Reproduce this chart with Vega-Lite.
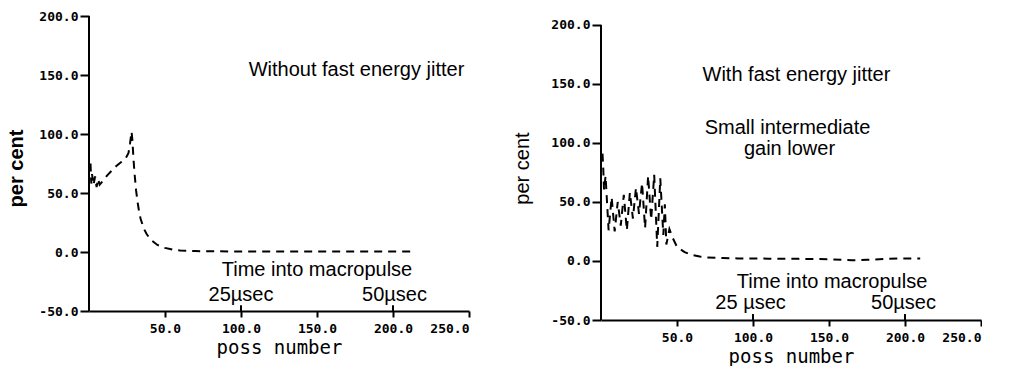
{
  "$schema": "https://vega.github.io/schema/vega-lite/v6.json",
  "background": "white",
  "padding": {"left": 6, "top": 10, "right": 0, "bottom": 0},
  "spacing": 42,
  "config": {
    "view": {"stroke": null},
    "axis": {
      "grid": false,
      "domainColor": "black",
      "domainWidth": 2,
      "tickColor": "black",
      "tickWidth": 2,
      "labelColor": "black",
      "labelFont": "DejaVu Sans Mono",
      "labelFontWeight": "bold",
      "labelFontSize": 13,
      "titleColor": "black"
    },
    "text": {"font": "Liberation Sans", "fontSize": 20, "color": "black", "align": "center", "baseline": "middle"}
  },
  "hconcat": [
    {
      "width": 380,
      "height": 304,
      "layer": [
        {
          "data": {"values": [
            {"pass": 1, "pct": 75}, {"pass": 1.5, "pct": 58}, {"pass": 2, "pct": 66}, {"pass": 3, "pct": 57},
            {"pass": 4, "pct": 64}, {"pass": 5, "pct": 55}, {"pass": 6, "pct": 62}, {"pass": 7, "pct": 57},
            {"pass": 9, "pct": 60}, {"pass": 12, "pct": 65}, {"pass": 15, "pct": 69}, {"pass": 18, "pct": 73},
            {"pass": 21, "pct": 76}, {"pass": 24, "pct": 79}, {"pass": 26, "pct": 84}, {"pass": 27, "pct": 92},
            {"pass": 28, "pct": 102}, {"pass": 28.6, "pct": 94}, {"pass": 29.2, "pct": 80}, {"pass": 30, "pct": 66},
            {"pass": 31, "pct": 52}, {"pass": 32, "pct": 42}, {"pass": 33, "pct": 34}, {"pass": 34, "pct": 28},
            {"pass": 36, "pct": 20}, {"pass": 38, "pct": 15}, {"pass": 41, "pct": 10}, {"pass": 45, "pct": 6},
            {"pass": 50, "pct": 3.5}, {"pass": 55, "pct": 2}, {"pass": 60, "pct": 1.2}, {"pass": 70, "pct": 0.8},
            {"pass": 80, "pct": 0.6}, {"pass": 100, "pct": 0.5}, {"pass": 150, "pct": 0.5}, {"pass": 212, "pct": 0.5}
          ]},
          "mark": {"type": "line", "color": "black", "strokeWidth": 2, "strokeDash": [8, 6]},
          "encoding": {
            "x": {"field": "pass", "type": "quantitative",
              "scale": {"domain": [0, 250], "nice": false, "zero": false},
              "axis": {"title": "poss number", "values": [50, 100, 150, 200, 250], "format": ".1f",
                "offset": -9, "tickSize": 6, "labelPadding": 5,
                "titleFont": "DejaVu Sans Mono", "titleFontSize": 19, "titleFontWeight": "normal", "titlePadding": 3}},
            "y": {"field": "pct", "type": "quantitative",
              "scale": {"domain": [-57.6, 200], "nice": false, "zero": false},
              "axis": {"title": "per cent", "values": [-50, 0, 50, 100, 150, 200],
                "labelExpr": "datum.value < 0 ? '-' + format(-datum.value, '.1f') : format(datum.value, '.1f')",
                "domain": false, "tickSize": 9, "labelPadding": 2,
                "titleFont": "Liberation Sans", "titleFontSize": 20, "titleFontWeight": "bold", "titlePadding": 12}}
          }
        },
        {
          "data": {"values": [{"pass": 0, "pct": -50, "pct2": 200}]},
          "mark": {"type": "rule", "color": "black", "strokeWidth": 2},
          "encoding": {
            "x": {"field": "pass", "type": "quantitative"},
            "y": {"field": "pct", "type": "quantitative"},
            "y2": {"field": "pct2"}
          }
        },
        {
          "data": {"values": [{"pass": 100, "pct": -50, "pct2": -45}, {"pass": 200, "pct": -50, "pct2": -45}]},
          "mark": {"type": "rule", "color": "black", "strokeWidth": 2},
          "encoding": {
            "x": {"field": "pass", "type": "quantitative"},
            "y": {"field": "pct", "type": "quantitative"},
            "y2": {"field": "pct2"}
          }
        },
        {
          "data": {"values": [
            {"pass": 176, "pct": 154, "label": "Without fast energy jitter"},
            {"pass": 150, "pct": -15, "label": "Time into macropulse"},
            {"pass": 100, "pct": -36.5, "label": "25µsec"},
            {"pass": 201, "pct": -36.5, "label": "50µsec"}
          ]},
          "mark": {"type": "text"},
          "encoding": {
            "x": {"field": "pass", "type": "quantitative"},
            "y": {"field": "pct", "type": "quantitative"},
            "text": {"field": "label"}
          }
        }
      ]
    },
    {
      "width": 380,
      "height": 304,
      "layer": [
        {
          "data": {"values": [
            {"pass": 1, "pct": 91}, {"pass": 1.5, "pct": 78}, {"pass": 2, "pct": 60}, {"pass": 3, "pct": 72},
            {"pass": 5, "pct": 26}, {"pass": 7, "pct": 54}, {"pass": 9, "pct": 25}, {"pass": 11, "pct": 50},
            {"pass": 13, "pct": 30}, {"pass": 15, "pct": 56}, {"pass": 17, "pct": 26}, {"pass": 19, "pct": 58},
            {"pass": 21, "pct": 36}, {"pass": 23, "pct": 62}, {"pass": 25, "pct": 40}, {"pass": 27, "pct": 66},
            {"pass": 29, "pct": 28}, {"pass": 31, "pct": 72}, {"pass": 33, "pct": 35}, {"pass": 35, "pct": 73},
            {"pass": 37, "pct": 12}, {"pass": 39, "pct": 70}, {"pass": 41, "pct": 22}, {"pass": 42, "pct": 48},
            {"pass": 43, "pct": 14}, {"pass": 45, "pct": 27}, {"pass": 47, "pct": 20}, {"pass": 50, "pct": 12},
            {"pass": 55, "pct": 7.5}, {"pass": 60, "pct": 5}, {"pass": 65, "pct": 3.8}, {"pass": 70, "pct": 3},
            {"pass": 80, "pct": 2.5}, {"pass": 90, "pct": 2.2}, {"pass": 110, "pct": 2}, {"pass": 130, "pct": 1.8},
            {"pass": 150, "pct": 1.5}, {"pass": 165, "pct": 0.6}, {"pass": 175, "pct": 1}, {"pass": 190, "pct": 2},
            {"pass": 210, "pct": 2.2}
          ]},
          "mark": {"type": "line", "color": "black", "strokeWidth": 2, "strokeDash": [8, 6]},
          "encoding": {
            "x": {"field": "pass", "type": "quantitative",
              "scale": {"domain": [0, 250], "nice": false, "zero": false},
              "axis": {"title": "poss number", "values": [50, 100, 150, 200, 250], "format": ".1f",
                "tickSize": 6, "labelPadding": 5,
                "titleFont": "DejaVu Sans Mono", "titleFontSize": 19, "titleFontWeight": "normal", "titlePadding": 3}},
            "y": {"field": "pct", "type": "quantitative",
              "scale": {"domain": [-50, 207.6], "nice": false, "zero": false},
              "axis": {"title": "per cent", "values": [-50, 0, 50, 100, 150, 200],
                "labelExpr": "datum.value < 0 ? '-' + format(-datum.value, '.1f') : format(datum.value, '.1f')",
                "domain": false, "tickSize": 9, "labelPadding": 2,
                "titleFont": "Liberation Sans", "titleFontSize": 20, "titleFontWeight": "normal", "titlePadding": 18}}
          }
        },
        {
          "data": {"values": [{"pass": 0, "pct": -50, "pct2": 200}]},
          "mark": {"type": "rule", "color": "black", "strokeWidth": 2},
          "encoding": {
            "x": {"field": "pass", "type": "quantitative"},
            "y": {"field": "pct", "type": "quantitative"},
            "y2": {"field": "pct2"}
          }
        },
        {
          "data": {"values": [{"pass": 100, "pct": -50, "pct2": -45}, {"pass": 200, "pct": -50, "pct2": -45}]},
          "mark": {"type": "rule", "color": "black", "strokeWidth": 2},
          "encoding": {
            "x": {"field": "pass", "type": "quantitative"},
            "y": {"field": "pct", "type": "quantitative"},
            "y2": {"field": "pct2"}
          }
        },
        {
          "data": {"values": [
            {"pass": 128.6, "pct": 157.6, "label": "With fast energy jitter"},
            {"pass": 122.7, "pct": 112.7, "label": "Small intermediate"},
            {"pass": 124, "pct": 95, "label": "gain lower"},
            {"pass": 152, "pct": -17.8, "label": "Time into macropulse"},
            {"pass": 98.4, "pct": -35.6, "label": "25 µsec"},
            {"pass": 199, "pct": -35.6, "label": "50µsec"}
          ]},
          "mark": {"type": "text"},
          "encoding": {
            "x": {"field": "pass", "type": "quantitative"},
            "y": {"field": "pct", "type": "quantitative"},
            "text": {"field": "label"}
          }
        }
      ]
    }
  ]
}
